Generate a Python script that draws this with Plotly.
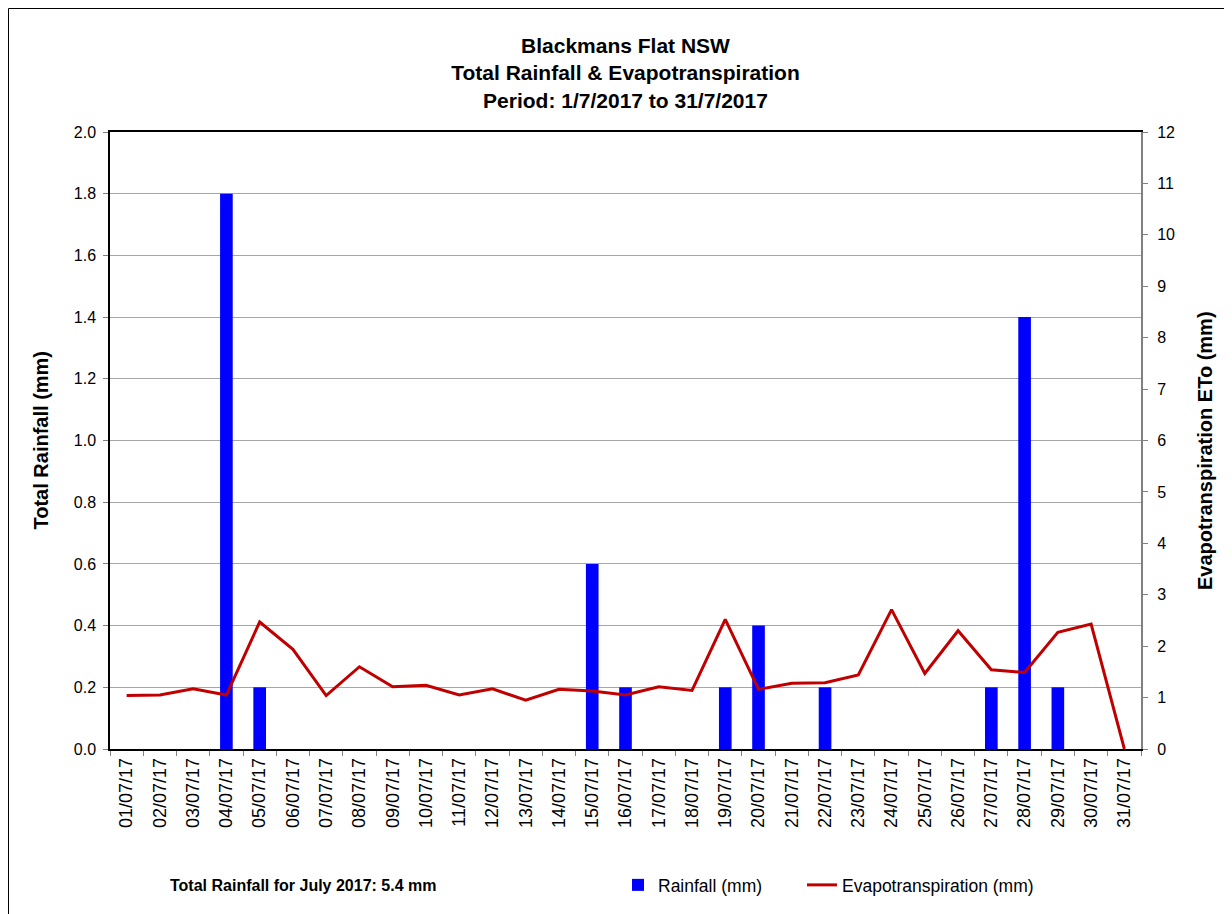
import plotly.graph_objects as go

dates = [f"{d:02d}/07/17" for d in range(1, 32)]
rainfall = [0, 0, 0, 1.8, 0.2, 0, 0, 0, 0, 0, 0, 0, 0, 0, 0.6, 0.2, 0, 0, 0.2, 0.4,
            0, 0.2, 0, 0, 0, 0, 0.2, 1.4, 0.2, 0, 0]
eto = [1.04, 1.05, 1.17, 1.05, 2.47, 1.94, 1.04, 1.60, 1.21, 1.24, 1.05, 1.17, 0.95,
       1.16, 1.13, 1.05, 1.21, 1.14, 2.52, 1.16, 1.28, 1.29, 1.44, 2.71, 1.47, 2.30,
       1.54, 1.49, 2.27, 2.43, 0.0]

W, H = 1232, 914
OFF = 8  # page body margin
L0, R0, T0, B0 = 110, 1141, 132, 749  # plot area in screen pixels
FONT = "Liberation Sans, Arial, sans-serif"
NARROW = "Liberation Sans Narrow, Arial Narrow, Liberation Sans, sans-serif"

fig = go.Figure()
fig.add_trace(go.Bar(x=dates, y=rainfall, name="Rainfall (mm)", legend="legend",
                     marker=dict(color="#0000ff", line=dict(width=0)), yaxis="y"))
fig.add_trace(go.Scatter(x=dates, y=eto, name="Evapotranspiration (mm)", mode="lines",
                         legend="legend2",
                         line=dict(color="#c00000", width=3), yaxis="y2"))

def px(xs):
    return (xs - L0) / (R0 - L0)

def py(ys):
    return (B0 - ys) / (B0 - T0)

legend_font = dict(family=NARROW, size=17.5, color="black")

fig.update_layout(
    width=W, height=H,
    margin=dict(l=L0 - OFF, r=W - (R0 - OFF), t=T0 - OFF, b=H - (B0 - OFF)),
    paper_bgcolor="white", plot_bgcolor="white",
    bargap=0.62,
    font=dict(family=FONT, size=16, color="black"),
    title=dict(text="<b>Blackmans Flat NSW<br>Total Rainfall & Evapotranspiration<br>Period: 1/7/2017 to 31/7/2017</b>",
               x=0.5, xref="paper", xanchor="center", y=1 - 45 / H, yref="container", yanchor="top",
               font=dict(family=FONT, size=21, color="black")),
    xaxis=dict(type="category", tickangle=-90, ticks="outside", tickson="boundaries",
               ticklen=5, tickcolor="#808080", showline=True, linecolor="black", linewidth=1.5,
               mirror=True, showgrid=False, tickfont=dict(size=18, family=FONT)),
    yaxis=dict(range=[0, 2], dtick=0.2, tickformat=".1f", showgrid=True, gridcolor="#a6a6a6",
               gridwidth=1, showline=True, linecolor="black", linewidth=1.5,
               ticks="outside", ticklen=5, tickcolor="#808080", zeroline=False,
               ticklabelstandoff=4, tickfont=dict(size=16, family=FONT)),
    yaxis2=dict(range=[0, 12], dtick=1, overlaying="y", side="right", showgrid=False,
                showline=True, linecolor="#808080", linewidth=2, ticks="outside", ticklen=5,
                tickcolor="#808080", zeroline=False, ticklabelstandoff=6,
                tickfont=dict(size=16, family=FONT)),
    showlegend=True,
    legend=dict(orientation="h", x=px(618), y=py(885), xanchor="left", yanchor="middle",
                font=legend_font, bgcolor="rgba(0,0,0,0)"),
    legend2=dict(orientation="h", x=px(802), y=py(885), xanchor="left", yanchor="middle",
                 font=legend_font, bgcolor="rgba(0,0,0,0)"),
    annotations=[
        dict(text="<b>Total Rainfall (mm)</b>", x=px(40), y=0.5, xref="paper", yref="paper",
             xanchor="center", yanchor="middle",
             textangle=-90, showarrow=False, font=dict(family=FONT, size=20)),
        dict(text="<b>Evapotranspiration ETo (mm)</b>", x=px(1205), y=py(451), xref="paper", yref="paper",
             xanchor="center", yanchor="middle",
             textangle=-90, showarrow=False, font=dict(family=FONT, size=20)),
        dict(text="<b>Total Rainfall for July 2017: 5.4 mm</b>", x=px(303), y=py(885),
             xref="paper", yref="paper", xanchor="center", yanchor="middle", showarrow=False,
             font=dict(family=NARROW, size=16)),
    ],
    shapes=[
        dict(type="line", xref="paper", yref="paper", x0=px(8.5), x1=px(1240), y0=py(8.5), y1=py(8.5),
             line=dict(color="black", width=1)),
        dict(type="line", xref="paper", yref="paper", x0=px(8.5), x1=px(8.5), y0=py(8.5), y1=py(922),
             line=dict(color="black", width=1)),
    ],
)

fig.write_html("out.html")
